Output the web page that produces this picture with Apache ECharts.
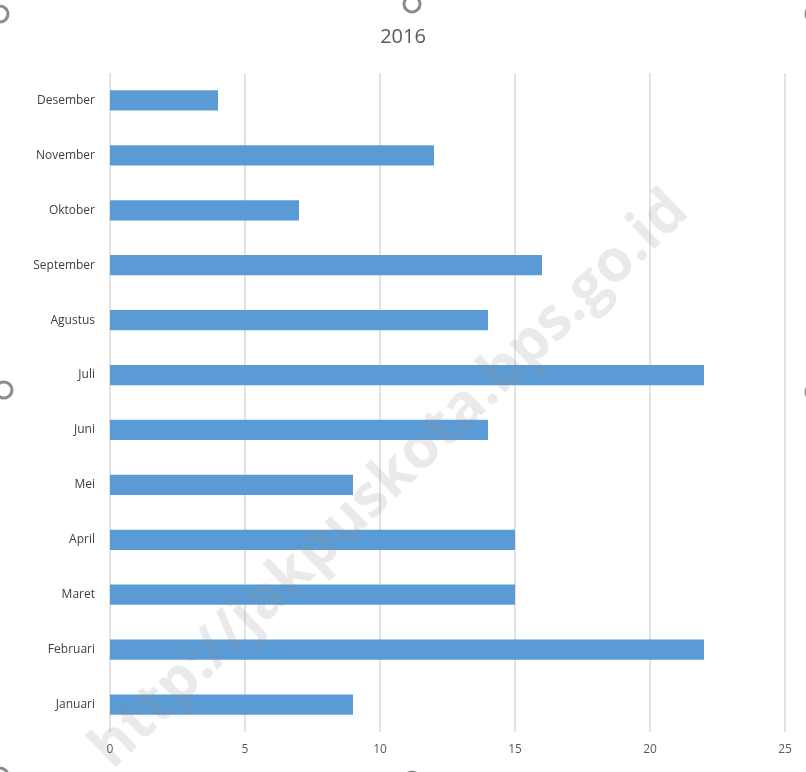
<!DOCTYPE html>
<html>
<head>
<meta charset="utf-8">
<script src="https://cdn.jsdelivr.net/npm/echarts@6/dist/echarts.min.js"></script>
<style>
  html, body { margin: 0; padding: 0; background: #fff; }
  #chart { width: 806px; height: 772px; }
</style>
</head>
<body>
<div id="chart"></div>
<script>
const bulan = ['Januari', 'Februari', 'Maret', 'April', 'Mei', 'Juni', 'Juli',
    'Agustus', 'September', 'Oktober', 'November', 'Desember'];
const jumlah = [9, 22, 15, 15, 9, 14, 22, 14, 16, 7, 12, 4];
const judul = '2016';

var dom = document.getElementById('chart');
var myChart = echarts.init(dom, null, { renderer: 'canvas' });

// poignées de sélection (cercles gris sur les bords)
const handle = (x, y) => ({
    type: 'circle',
    shape: { cx: x, cy: y, r: 8 },
    style: { fill: 'none', stroke: '#8c8c8c', lineWidth: 3 },
    z: 10
});

const option = {
    backgroundColor: '#fff',
    textStyle: { fontFamily: 'Open Sans' },
    title: {
        text: judul,
        left: 'center',
        top: 22,
        textStyle: { fontSize: 20, fontWeight: 'normal', color: '#595959', fontFamily: 'Open Sans' }
    },
    grid: { left: 110, right: 21, top: 73, bottom: 40, containLabel: false },
    xAxis: {
        type: 'value',
        min: 0,
        max: 25,
        interval: 5,
        axisLine: { show: false },
        axisTick: { show: false },
        axisLabel: { color: '#595959', fontSize: 12, margin: 12 },
        splitLine: { lineStyle: { color: '#d9d9d9', width: 1.5 } }
    },
    yAxis: {
        type: 'category',
        data: bulan,
        axisLine: { show: false },
        axisTick: { show: false },
        axisLabel: { color: '#404040', fontSize: 12, margin: 15 }
    },
    series: [{
        type: 'bar',
        data: jumlah,
        barWidth: '37%',
        itemStyle: { color: '#5b9bd5' }
    }],
    graphic: [
        {
            type: 'text',
            x: 390,
            y: 480,
            rotation: Math.PI / 4.1,
            style: {
                text: 'http://jakpuskota.bps.go.id',
                font: 'bold 59px "Open Sans"',
                fill: 'rgba(140,140,140,0.18)',
                align: 'center',
                verticalAlign: 'middle'
            },
            z: 100
        },
        handle(412, 4),
        handle(4, 390),
        handle(814, 392),
        handle(412, 780),
        handle(0, 14),
        handle(814, 14),
        handle(0, 776)
    ]
};

myChart.setOption(option);
window.addEventListener('resize', myChart.resize);
</script>
</body>
</html>
